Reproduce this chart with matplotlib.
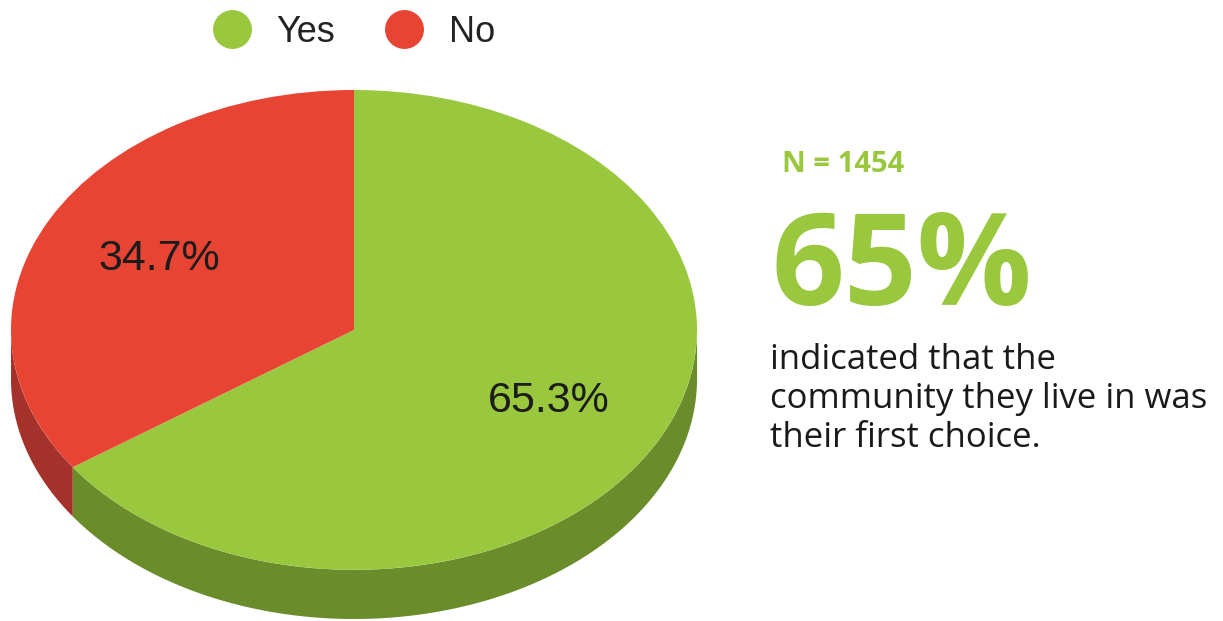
import numpy as np
import matplotlib.pyplot as plt
from matplotlib.lines import Line2D

labels = ['Yes', 'No']
shares = [65.3, 34.7]
top_colors = ['#99c83f', '#e84434']
side_colors = ['#6b8c2b', '#a5322a']

respondents = 1454
headline = '65%'
caption_lines = ['indicated that the', 'community they live in was', 'their first choice.']

W, H = 1223, 621
depth = 0.205  # thickness of the tilted pie, in units of the vertical radius


def fx(px):
    return px / W


def fy(py):
    return 1 - py / H


def main():
    fig = plt.figure(figsize=(W / 100, H / 100), dpi=100)

    # pie axes: x in [-1, 1], y in [-1 - depth, 1]
    left, right, top, bottom = 11, 697, 90, 619
    ax = fig.add_axes([fx(left), fy(bottom), (right - left) / W, (bottom - top) / H])

    # side walls of the front half, one per wedge
    total = sum(shares)
    cum = 0.0
    for share, col in zip(shares, side_colors):
        a0 = 90 - 360 * cum / total
        a1 = 90 - 360 * (cum + share) / total
        cum += share
        lo, hi = max(min(a0, a1), -180), min(max(a0, a1), 0)
        if lo >= hi:
            continue
        t = np.radians(np.linspace(lo, hi, 200))
        xs = np.concatenate([np.cos(t), np.cos(t[::-1])])
        ys = np.concatenate([np.sin(t), np.sin(t[::-1]) - depth])
        ax.fill(xs, ys, color=col, lw=0, zorder=1)

    wedges, _, autotexts = ax.pie(
        shares, colors=top_colors, startangle=90, counterclock=False,
        autopct='%.1f%%', pctdistance=0.64, radius=1,
        wedgeprops=dict(linewidth=0),
        textprops=dict(fontsize=31, family='Liberation Sans', color='#1c1c1c'))
    for w in wedges:
        w.set_zorder(2)
    for t in autotexts:
        t.set_zorder(3)

    ax.set_aspect('auto')
    ax.set_xlim(-1, 1)
    ax.set_ylim(-1 - depth, 1)
    ax.axis('off')

    handles = [Line2D([], [], marker='o', ls='', ms=27, color=c) for c in top_colors]
    fig.legend(handles, labels, loc='upper center', ncol=2, frameon=False,
               bbox_to_anchor=(fx(354), fy(15)), borderpad=0, borderaxespad=0,
               handlelength=1.05, handletextpad=0.7, columnspacing=1.4,
               prop=dict(family='Liberation Sans', size=26), labelcolor='#222222')

    green = top_colors[0]
    fig.text(fx(782), fy(172), f'N = {respondents}', color=green, fontsize=21,
             fontweight='bold', family='Open Sans', va='baseline')
    fig.text(fx(772), fy(305), headline, color=green, fontsize=92,
             fontweight='bold', family='Open Sans', va='baseline')
    for i, line in enumerate(caption_lines):
        fig.text(fx(770), fy(369 + 39 * i), line, color='#1a1a1a', fontsize=25,
                 family='Open Sans', va='baseline')

    fig.savefig('out.png', dpi=100)


if __name__ == '__main__':
    main()
